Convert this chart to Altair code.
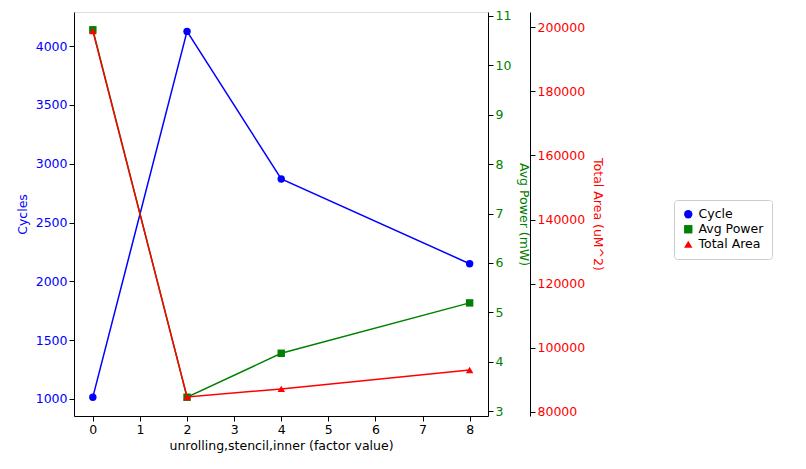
import altair as alt
import pandas as pd

factor = [0, 2, 4, 8]
cycles = [1015, 4125, 2870, 2150]
power = [10.72, 3.28, 4.17, 5.19]
area = [198800, 84700, 87200, 93100]

df = pd.DataFrame({"factor": factor, "Cycles": cycles, "Power": power, "Area": area})

series = ["Cycle", "Avg Power", "Total Area"]
colors = ["blue", "green", "red"]
shapes = ["circle", "square", "triangle-up"]
FONT = "DejaVu Sans"
FS = 12.5

xenc = alt.X("factor:Q", title="unrolling,stencil,inner (factor value)",
             scale=alt.Scale(domain=[-0.4, 8.39], nice=False, zero=False),
             axis=alt.Axis(values=list(range(9)), grid=False, tickColor="black",
                           domainColor="black", labelColor="black", titleColor="black",
                           titleFontWeight="normal", labelFont=FONT, titleFont=FONT,
                           labelFontSize=FS, titleFontSize=FS, format="d"))

color = alt.Color("s:N", scale=alt.Scale(domain=series, range=colors),
                  legend=alt.Legend(title=None, orient="none", legendX=600, legendY=188,
                                    strokeColor="#ccc", padding=8, cornerRadius=3,
                                    labelFontSize=FS, labelFont=FONT, symbolSize=70,
                                    fillColor="white"))
shape = alt.Shape("s:N", scale=alt.Scale(domain=series, range=shapes))


def layer(field, name, col, domain, title, orient, offset, values):
    base = alt.Chart(df).transform_calculate(s=f"'{name}'")
    axis = alt.Axis(orient=orient, offset=offset, grid=False, labelColor=col,
                    titleColor=col, tickColor="black", domainColor="black",
                    titleFontWeight="normal", titlePadding=6, values=values,
                    format="d", labelFont=FONT, titleFont=FONT,
                    labelFontSize=FS, titleFontSize=FS)
    y = alt.Y(f"{field}:Q", title=title, axis=axis,
              scale=alt.Scale(domain=domain, nice=False, zero=False))
    line = base.mark_line(color=col, strokeWidth=1.5).encode(x=xenc, y=y)
    pts = base.mark_point(filled=True, size=55, opacity=1).encode(
        x=xenc, y=y, color=color, shape=shape)
    return alt.layer(line, pts)


l1 = layer("Cycles", "Cycle", "blue", [855, 4290], "Cycles", "left", 0,
           list(range(1000, 4001, 500)))
l2 = layer("Power", "Avg Power", "green", [2.9, 11.08], "Avg Power (mW)", "right", 0,
           list(range(3, 12)))
l3 = layer("Area", "Total Area", "red", [78750, 204700], "Total Area (uM^2)", "right", 42,
           list(range(80000, 200001, 20000)))

chart = alt.layer(l1, l2, l3).resolve_scale(y="independent").properties(
    width=414, height=404, autosize=alt.AutoSizeParams(type="none"),
    padding={"left": 66, "top": 4, "right": 310, "bottom": 45}
).configure_view(stroke="black", strokeWidth=1).configure(background="white")

chart.save("out.html", embed_options={"renderer": "svg", "actions": False})
